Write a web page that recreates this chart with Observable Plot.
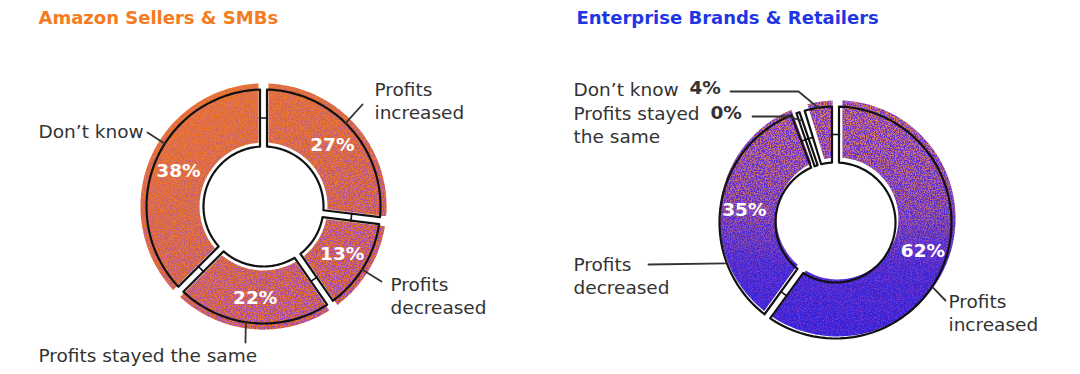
<!DOCTYPE html>
<html><head><meta charset="utf-8">
<script src="https://cdn.jsdelivr.net/npm/d3@7"></script>
<script src="https://cdn.jsdelivr.net/npm/@observablehq/plot@0.6"></script>
<style>body{margin:0;background:#fff;}</style>
</head><body><div id="chart"></div>
<script>
// ---------- data ----------
const categories = ["Profits increased", "Profits decreased", "Profits stayed the same", "Don’t know"];
const smbValues = [27, 13, 22, 38];
const entValues = [62, 35, 0, 4];
const titles = ["Amazon Sellers & SMBs", "Enterprise Brands & Retailers"];
const smbLabels = ["Profits\nincreased", "Profits\ndecreased", "Profits stayed the same", "Don’t know"];
const entLabels = ["Profits\nincreased", "Profits\ndecreased", "Profits stayed\nthe same", "Don’t know"];

// ---------- layout ----------
const donuts = [
  {id: "smb", values: smbValues, labels: smbLabels, cx: 263, cy: 206, rIn: 60, rOut: 117,
   fIn: 64, fOut: 123, fdx: 0, fdy: 0, base: "#fe0001", spk: "#fe0002", spk2: "#fe0003",
   title: titles[0], titleX: 38, titleColor: "#F47B20",
   labelPos: [[374, 99.5], [390, 295], [38, 354], [38, 130]],
   leaderPts: [[[362, 104]], [[381, 281]], [[245, 342]], [[147, 132]]],
   leaderAng: [44.6, 122.6, 188.7, 302.5], leaderR: [117, 117, 117, 117],
   pctInline: [null, null, null, null]},
  {id: "ent", values: entValues, labels: entLabels, cx: 835, cy: 222, rIn: 60, rOut: 116,
   fIn: 61, fOut: 118, fdx: 2, fdy: -4, base: "#fe0004", spk: "#fe0005", spk2: "#fe0006",
   title: titles[1], titleX: 576, titleColor: "#1F36E4",
   labelPos: [[948, 312], [573, 274.5], [573, 124], [573, 88]],
   leaderPts: [[[945, 300]], [[648, 264]], [[752, 116], [788, 116]], [[730, 91], [798, 91]]],
   leaderAng: [123.7, 249.6, null, null], leaderR: [117, 117, 108, 116],
   pctInline: [null, null, [710, 113], [689, 88]]}
];

const rad = Math.PI / 180;
function ringPts(cx, cy, r0, r1, a0, a1, g, minHalf) {
  const m = (a0 + a1) / 2;
  const half = r => Math.max((a1 - a0) / 2 - Math.asin(Math.min(1, g / r)), Math.asin(minHalf / r));
  const n = 64, pts = [];
  const h1 = half(r1), h0 = half(r0);
  for (let i = 0; i <= n; i++) { const a = m - h1 + 2 * h1 * i / n; pts.push([cx + r1 * Math.sin(a), cy - r1 * Math.cos(a)]); }
  for (let i = 0; i <= n; i++) { const a = m + h0 - 2 * h0 * i / n; pts.push([cx + r0 * Math.sin(a), cy - r0 * Math.cos(a)]); }
  return pts;
}

const fillRows = {}, outlineRows = [], tickRows = [], leaderRows = [], labelRows = [], pctRows = [], inlinePctRows = [];
for (const d of donuts) {
  fillRows[d.id] = [];
  const arcs = d3.pie().sort(null).padAngle(0.06).startAngle(0).endAngle(2 * Math.PI)(d.values);
  arcs.forEach((a, i) => {
    const key = d.id + i;
    if (a.data > 0) {
      for (const [x, y] of ringPts(d.cx + d.fdx, d.cy + d.fdy, d.fIn, d.fOut, a.startAngle, a.endAngle, 5, 1.5))
        fillRows[d.id].push({key, x, y});
    }
    for (const [x, y] of ringPts(d.cx, d.cy, d.rIn, d.rOut, a.startAngle, a.endAngle, 3.5, 1.6))
      outlineRows.push({key, x, y});
    // tick across the gap at the slice end
    const b = a.endAngle, rm = (d.rIn + d.rOut) / 2;
    const px = d.cx + rm * Math.sin(b), py = d.cy - rm * Math.cos(b);
    const tx = Math.cos(b), ty = Math.sin(b);
    tickRows.push({key, x: px - tx * 4, y: py - ty * 4}, {key, x: px + tx * 4, y: py + ty * 4});
    // leader line
    const ang = d.leaderAng[i] != null ? d.leaderAng[i] * rad : (a.startAngle + a.endAngle) / 2;
    const lr = d.leaderR[i];
    for (const [x, y] of d.leaderPts[i]) leaderRows.push({key, x, y});
    leaderRows.push({key, x: d.cx + lr * Math.sin(ang), y: d.cy - lr * Math.cos(ang)});
    // labels
    labelRows.push({x: d.labelPos[i][0], y: d.labelPos[i][1], text: d.labels[i]});
    const pct = d.values[i] + "%";
    if (d.pctInline[i]) {
      inlinePctRows.push({x: d.pctInline[i][0], y: d.pctInline[i][1], text: pct});
    } else {
      const m = (a.startAngle + a.endAngle) / 2, r = 92;
      pctRows.push({x: d.cx + r * Math.sin(m), y: d.cy - r * Math.cos(m), text: pct});
    }
  });
}

const font = "DejaVu Sans";
const marks = [];
for (const d of donuts) {
  marks.push(Plot.line(fillRows[d.id], {x: "x", y: "y", z: "key", fill: d.base, stroke: "none", curve: "linear-closed"}));
  marks.push(Plot.line(fillRows[d.id], {x: "x", y: "y", z: "key", fill: d.spk, stroke: "none", curve: "linear-closed"}));
  marks.push(Plot.line(fillRows[d.id], {x: "x", y: "y", z: "key", fill: d.spk2, stroke: "none", curve: "linear-closed"}));
  marks.push(Plot.text([d.title], {x: d.titleX, y: 18, text: t => t, textAnchor: "start", fontFamily: font, fontWeight: "bold", fontSize: 18, fill: d.titleColor}));
}
marks.push(
  Plot.line(outlineRows, {x: "x", y: "y", z: "key", fill: "none", stroke: "#111", strokeWidth: 2.2, curve: "linear-closed"}),
  Plot.line(tickRows, {x: "x", y: "y", z: "key", stroke: "#111", strokeWidth: 1.6}),
  Plot.line(leaderRows, {x: "x", y: "y", z: "key", stroke: "#333", strokeWidth: 1.8}),
  Plot.text(labelRows, {x: "x", y: "y", text: "text", textAnchor: "start", fontFamily: font, fontSize: 18.5, fill: "#333", lineHeight: 1.24}),
  Plot.text(inlinePctRows, {x: "x", y: "y", text: "text", textAnchor: "start", fontFamily: font, fontWeight: "bold", fontSize: 18.5, fill: "#333"}),
  Plot.text(pctRows, {x: "x", y: "y", text: "text", textAnchor: "middle", fontFamily: font, fontWeight: "bold", fontSize: 18.5, fill: "#fff"})
);

const svg = Plot.plot({
  width: 1080, height: 374, margin: 0,
  x: {type: "identity", axis: null}, y: {type: "identity", axis: null},
  style: {background: "#fff"},
  marks
});

const defs = d3.select(svg).insert("defs", ":first-child");
defs.html(`
<linearGradient id="baseL" gradientUnits="userSpaceOnUse" x1="200" y1="83" x2="320" y2="330">
  <stop offset="0" stop-color="#F27A24"/><stop offset="1" stop-color="#E8722C"/></linearGradient>
<linearGradient id="spkL" gradientUnits="userSpaceOnUse" x1="170" y1="90" x2="330" y2="330">
  <stop offset="0" stop-color="#8A3FD6" stop-opacity="0.18"/><stop offset="0.5" stop-color="#8A3FD6" stop-opacity="0.45"/><stop offset="1" stop-color="#8A3FD6" stop-opacity="0.95"/></linearGradient>
<linearGradient id="spkL2" gradientUnits="userSpaceOnUse" x1="263" y1="90" x2="263" y2="330">
  <stop offset="0" stop-color="#B050C8" stop-opacity="0.1"/><stop offset="1" stop-color="#B050C8" stop-opacity="0.4"/></linearGradient>
<linearGradient id="baseR" gradientUnits="userSpaceOnUse" x1="835" y1="100" x2="835" y2="340">
  <stop offset="0" stop-color="#6638CA"/><stop offset="0.45" stop-color="#4F2ED0"/><stop offset="0.65" stop-color="#3A24D8"/><stop offset="1" stop-color="#3020DA"/></linearGradient>
<linearGradient id="spkR" gradientUnits="userSpaceOnUse" x1="835" y1="100" x2="835" y2="340">
  <stop offset="0" stop-color="#F08A42" stop-opacity="0.95"/><stop offset="0.45" stop-color="#F08A42" stop-opacity="0.6"/><stop offset="0.7" stop-color="#F08A42" stop-opacity="0.12"/><stop offset="1" stop-color="#F08A42" stop-opacity="0.04"/></linearGradient>
<linearGradient id="spkR2" gradientUnits="userSpaceOnUse" x1="835" y1="100" x2="835" y2="340">
  <stop offset="0" stop-color="#C04AD8" stop-opacity="0.45"/><stop offset="1" stop-color="#C04AD8" stop-opacity="0.4"/></linearGradient>
<filter id="nA" x="0" y="0" width="1" height="1" color-interpolation-filters="sRGB">
  <feTurbulence type="fractalNoise" baseFrequency="0.8" numOctaves="2" seed="3" result="t"/>
  <feColorMatrix in="t" type="matrix" values="0 0 0 0 0  0 0 0 0 0  0 0 0 0 0  9 0 0 0 -4.1" result="m"/>
  <feComposite in="SourceGraphic" in2="m" operator="in"/>
</filter>
<filter id="nB" x="0" y="0" width="1" height="1" color-interpolation-filters="sRGB">
  <feTurbulence type="fractalNoise" baseFrequency="0.9" numOctaves="2" seed="11" result="t"/>
  <feColorMatrix in="t" type="matrix" values="0 0 0 0 0  0 0 0 0 0  0 0 0 0 0  0 9 0 0 -4.6" result="m"/>
  <feComposite in="SourceGraphic" in2="m" operator="in"/>
</filter>`);

const swaps = [["#fe0001", "url(#baseL)", null], ["#fe0002", "url(#spkL)", "url(#nA)"], ["#fe0003", "url(#spkL2)", "url(#nB)"],
               ["#fe0004", "url(#baseR)", null], ["#fe0005", "url(#spkR)", "url(#nA)"], ["#fe0006", "url(#spkR2)", "url(#nB)"]];
for (const [ph, fill, filter] of swaps) {
  svg.querySelectorAll(`[fill="${ph}"]`).forEach(el => {
    el.setAttribute("fill", fill);
    if (filter) el.setAttribute("filter", filter);
  });
}
document.getElementById("chart").appendChild(svg);
</script>
</body></html>
